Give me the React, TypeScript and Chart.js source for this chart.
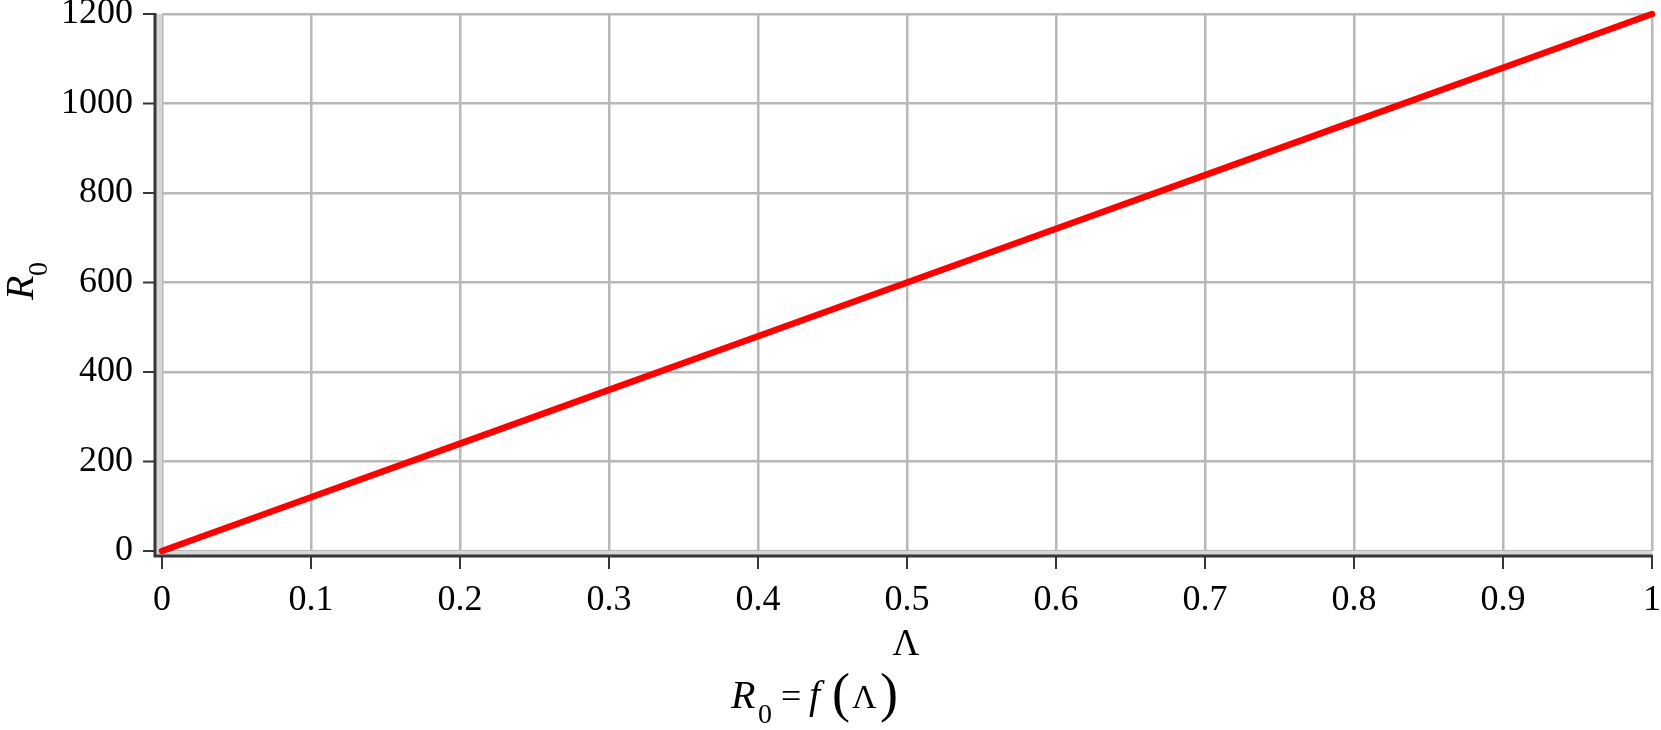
import React, { useEffect, useRef } from "react";
import { Chart, registerables } from "chart.js";

Chart.register(...registerables);

const lambdaValues = [0, 0.1, 0.2, 0.3, 0.4, 0.5, 0.6, 0.7, 0.8, 0.9, 1];
const r0Values = [0, 120, 240, 360, 480, 600, 720, 840, 960, 1080, 1200];
const xTickValues = [0, 0.1, 0.2, 0.3, 0.4, 0.5, 0.6, 0.7, 0.8, 0.9, 1];
const xTickLabels = ["0", "0.1", "0.2", "0.3", "0.4", "0.5", "0.6", "0.7", "0.8", "0.9", "1"];
const yTickValues = [0, 200, 400, 600, 800, 1000, 1200];
const yTickLabels = ["0", "200", "400", "600", "800", "1000", "1200"];
const xTitle = "Λ";
const yTitleMain = "R";
const yTitleSub = "0";

const FONT = "'Liberation Serif', 'Times New Roman', serif";
const GRID = "#b8b8b8";
const AXIS = "#363636";

const mapleAxes = {
  id: "mapleAxes",
  beforeDatasetsDraw(chart: any) {
    const { ctx, scales } = chart;
    const xs = scales.x;
    const ys = scales.y;
    const x0 = xs.getPixelForValue(xTickValues[0]);
    const x1 = xs.getPixelForValue(xTickValues[xTickValues.length - 1]);
    const y0 = ys.getPixelForValue(yTickValues[0]);
    const y1 = ys.getPixelForValue(yTickValues[yTickValues.length - 1]);
    const axX = x0 - 7;
    const axY = y0 + 5;
    ctx.save();
    ctx.fillStyle = "#d6d6d6";
    ctx.fillRect(axX, y0, x1 - axX, axY - y0);
    ctx.fillRect(axX, y1, x0 - axX, axY - y1);
    ctx.strokeStyle = AXIS;
    ctx.lineWidth = 3;
    ctx.beginPath();
    ctx.moveTo(axX, y1 - 1);
    ctx.lineTo(axX, axY);
    ctx.lineTo(x1 + 1, axY);
    ctx.stroke();
    ctx.lineWidth = 2;
    ctx.beginPath();
    for (const v of xTickValues) {
      const px = xs.getPixelForValue(v);
      ctx.moveTo(px, axY);
      ctx.lineTo(px, axY + 13);
    }
    for (const v of yTickValues) {
      const py = ys.getPixelForValue(v);
      ctx.moveTo(axX, py);
      ctx.lineTo(axX - 12, py);
    }
    ctx.stroke();
    ctx.restore();
  },
  afterDraw(chart: any) {
    const { ctx, scales } = chart;
    const xs = scales.x;
    ctx.save();
    ctx.fillStyle = "#000";
    ctx.textAlign = "center";
    ctx.textBaseline = "alphabetic";
    ctx.font = `37px ${FONT}`;
    ctx.fillText(xTitle, (xs.left + xs.right) / 2 - 1, 655);
    ctx.save();
    ctx.translate(33, 300);
    ctx.rotate(-Math.PI / 2);
    ctx.textAlign = "left";
    ctx.font = `italic 40px ${FONT}`;
    ctx.fillText(yTitleMain, 0, 0);
    ctx.font = `28px ${FONT}`;
    ctx.fillText(yTitleSub, 24, 14);
    ctx.restore();
    ctx.textAlign = "left";
    ctx.font = `italic 40px ${FONT}`;
    ctx.fillText("R", 731, 708);
    ctx.font = `28px ${FONT}`;
    ctx.fillText("0", 758, 723);
    ctx.font = `36px ${FONT}`;
    ctx.fillText("=", 781, 708);
    ctx.font = `italic 40px ${FONT}`;
    ctx.fillText("f", 809, 708);
    ctx.font = `54px ${FONT}`;
    ctx.fillText("(", 832, 711);
    ctx.font = `34px ${FONT}`;
    ctx.fillText("Λ", 852, 708);
    ctx.font = `54px ${FONT}`;
    ctx.fillText(")", 880, 711);
    ctx.restore();
  },
};

function zeroPad(scale: any) {
  scale.paddingTop = 0;
  scale.paddingBottom = 0;
  scale.paddingLeft = 0;
  scale.paddingRight = 0;
}

export default function App() {
  const canvasRef = useRef<HTMLCanvasElement | null>(null);

  useEffect(() => {
    document.body.style.margin = "0";
    const canvas = canvasRef.current;
    if (!canvas) return;
    const chart = new Chart(canvas, {
      type: "line",
      data: {
        datasets: [
          {
            data: lambdaValues.map((x, i) => ({ x, y: r0Values[i] })),
            borderColor: "#ff0000",
            borderWidth: 6.5,
            pointRadius: 0,
            tension: 0,
            borderCapStyle: "round",
            clip: false as any,
          },
        ],
      },
      options: {
        animation: false,
        responsive: true,
        maintainAspectRatio: false,
        layout: { padding: { top: 14, right: 9, left: 0, bottom: 0 } },
        plugins: { legend: { display: false }, tooltip: { enabled: false } },
        scales: {
          x: {
            type: "linear",
            min: 0,
            max: 1,
            afterBuildTicks: (scale: any) => {
              scale.ticks = xTickValues.map((v) => ({ value: v }));
            },
            afterFit: (scale: any) => {
              scale.height = 179;
              zeroPad(scale);
            },
            ticks: {
              callback: (_v: any, i: number) => xTickLabels[i],
              font: { family: FONT, size: 36 },
              color: "#000",
              padding: 28,
              maxRotation: 0,
              autoSkip: false,
            },
            grid: { color: GRID, lineWidth: 2.5, drawTicks: false },
            border: { display: false },
          },
          y: {
            type: "linear",
            min: 0,
            max: 1200,
            afterBuildTicks: (scale: any) => {
              scale.ticks = yTickValues.map((v) => ({ value: v }));
            },
            afterFit: (scale: any) => {
              scale.width = 162;
              zeroPad(scale);
            },
            ticks: {
              callback: (_v: any, i: number) => yTickLabels[i],
              font: { family: FONT, size: 36 },
              color: "#000",
              padding: 29,
              autoSkip: false,
            },
            grid: { color: GRID, lineWidth: 2.5, drawTicks: false },
            border: { display: false },
          },
        },
      },
      plugins: [mapleAxes],
    });
    return () => chart.destroy();
  }, []);

  return (
    <div style={{ width: 1661, height: 730, position: "relative", background: "#fff" }}>
      <canvas ref={canvasRef} />
    </div>
  );
}
